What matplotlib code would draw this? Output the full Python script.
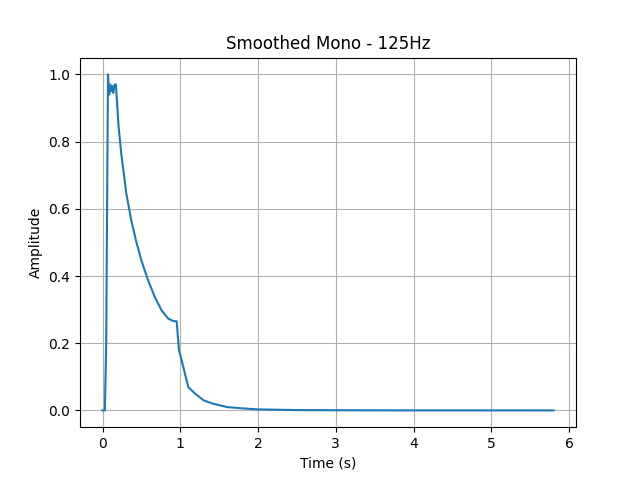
import matplotlib
matplotlib.use("Agg")
import matplotlib.pyplot as plt

time_s = [0.0, 0.03, 0.047, 0.07, 0.086, 0.099, 0.112, 0.125, 0.138, 0.155, 0.172, 0.18,
          0.207, 0.241, 0.306, 0.37, 0.435, 0.5, 0.586, 0.673, 0.759, 0.845, 0.91, 0.953,
          0.983, 1.018, 1.06, 1.104, 1.19, 1.3, 1.42, 1.6, 1.8, 2.0, 2.5, 3.0, 4.0, 5.0, 5.8]
amplitude = [0.0, 0.0, 0.2, 1.0, 0.94, 0.97, 0.95, 0.965, 0.945, 0.97, 0.97, 0.94,
             0.843, 0.764, 0.645, 0.565, 0.501, 0.446, 0.387, 0.337, 0.298, 0.273, 0.266, 0.265,
             0.179, 0.149, 0.109, 0.069, 0.05, 0.03, 0.02, 0.01, 0.006, 0.003, 0.001, 0.0005, 0.0, 0.0, 0.0]

fig, ax = plt.subplots(figsize=(6.4, 4.8), dpi=100)
ax.plot(time_s, amplitude, color="#1f77b4")
ax.set_title("Smoothed Mono - 125Hz")
ax.set_xlabel("Time (s)")
ax.set_ylabel("Amplitude")
ax.grid(True)
fig.savefig("out.png")
